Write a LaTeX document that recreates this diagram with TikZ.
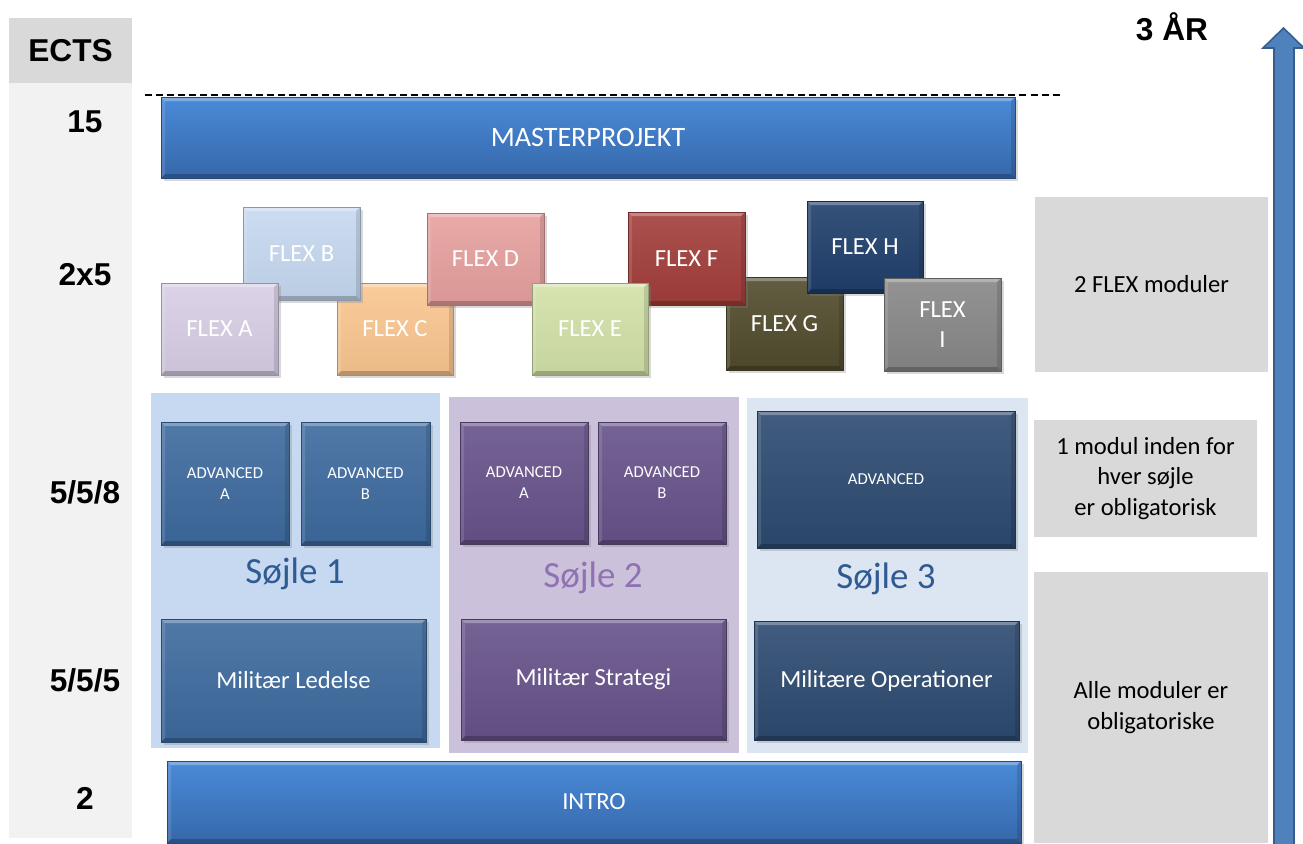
\documentclass[tikz,border=0pt]{standalone}
\usepackage{fontspec}
\setmainfont{Carlito}
\newfontfamily\ectsfont{Liberation Sans}
\usetikzlibrary{shadows}
\definecolor{ectsbg}{HTML}{F2F2F2}
\definecolor{ectshd}{HTML}{D9D9D9}
\definecolor{notebg}{HTML}{D9D9D9}
\definecolor{mastop}{HTML}{4A8AD8}
\definecolor{masbot}{HTML}{3668AA}
\definecolor{flexa}{HTML}{D8CEE6}
\definecolor{flexb}{HTML}{C6D9F1}
\definecolor{flexc}{HTML}{FAC690}
\definecolor{flexd}{HTML}{E6A09E}
\definecolor{flexe}{HTML}{D2E1A8}
\definecolor{flexf}{HTML}{A23E3B}
\definecolor{flexg}{HTML}{514B2D}
\definecolor{flexh}{HTML}{1F3F6B}
\definecolor{flexi}{HTML}{878787}
\definecolor{pana}{HTML}{C6D9F1}
\definecolor{panb}{HTML}{CCC1DA}
\definecolor{panc}{HTML}{DCE6F2}
\definecolor{cola}{HTML}{3D6A9E}
\definecolor{colb}{HTML}{67528A}
\definecolor{colc}{HTML}{2C4A70}
\definecolor{sja}{HTML}{2F5A92}
\definecolor{sjb}{HTML}{8F72B3}
\definecolor{arrowbl}{HTML}{4F81BD}
\definecolor{arrowdk}{HTML}{385D8A}

\begin{document}
\begin{tikzpicture}[
    x=0.02cm, y=-0.02cm,
    font=\fontsize{14}{17.3}\selectfont,
    sz/.style 2 args={minimum width=#1*0.02cm, minimum height=#2*0.02cm},
    bevel/.style={path picture={
      \fill[white, opacity=0.3] (path picture bounding box.north west) -- (path picture bounding box.north east)
        -- ([xshift=-0.8mm, yshift=-0.8mm]path picture bounding box.north east) -- ([xshift=0.8mm, yshift=-0.8mm]path picture bounding box.north west) -- cycle;
      \fill[black, opacity=0.22] (path picture bounding box.south west) -- (path picture bounding box.south east)
        -- ([xshift=-0.8mm, yshift=0.8mm]path picture bounding box.south east) -- ([xshift=0.8mm, yshift=0.8mm]path picture bounding box.south west) -- cycle;
      \fill[white, opacity=0.12] (path picture bounding box.north west) -- ([xshift=0.8mm, yshift=-0.8mm]path picture bounding box.north west)
        -- ([xshift=0.8mm, yshift=0.8mm]path picture bounding box.south west) -- (path picture bounding box.south west) -- cycle;
      \fill[black, opacity=0.12] (path picture bounding box.north east) -- ([xshift=-0.8mm, yshift=-0.8mm]path picture bounding box.north east)
        -- ([xshift=-0.8mm, yshift=0.8mm]path picture bounding box.south east) -- (path picture bounding box.south east) -- cycle;
    }},
    mod/.style={inner sep=0pt, text=white, align=center, top color=#1!90!white, bottom color=#1!94!black,
      draw=#1!70!black, line width=0.3pt, bevel, drop shadow={shadow xshift=0.5mm, shadow yshift=-0.6mm, opacity=0.3}},
    wide/.style={mod=masbot, top color=mastop, bottom color=masbot, font=\fontsize{16}{19}\selectfont},
    adv/.style={mod=#1, font=\fontsize{9.5}{11.9}\selectfont},
    panel/.style={fill=#1, inner sep=0pt},
    note/.style={fill=notebg, inner sep=0pt, align=center, text=black},
    ects/.style={font=\ectsfont\bfseries\fontsize{18}{21}\selectfont},
    sjl/.style={anchor=base, font=\fontsize{21}{25}\selectfont},
  ]
  \useasboundingbox (0,0) rectangle (1303,843);
  \clip (0,0) rectangle (1303,843);
  % ---- ECTS column
  \node[panel=ectsbg, sz={123}{820}] (col) at (70.5,428) {};
  \node[panel=ectshd, sz={123}{65}, ects] (ehd) at (70.5,50.5) {ECTS};
  \node[ects] (e15) at (85,122) {15};
  \node[ects] (eflex) at (85,275) {2x5};
  \node[ects] (eadv) at (85,492) {5/5/8};
  \node[ects] (ebase) at (85,680) {5/5/5};
  \node[ects] (eintro) at (85,798) {2};
  % ---- masterprojekt
  \coordinate (dla) at (145,95);
  \coordinate (dlb) at (1062,95);
  \draw[dash pattern=on 4pt off 2.3pt, line width=0.6pt] (dla) -- (dlb);
  \node[wide, sz={854}{81}] (mp) at (588,137.5) {MASTERPROJEKT};
  % ---- flex modules
  \node[mod=flexc, sz={116}{92}] (fc) at (395,329) {FLEX C};
  \node[mod=flexb, sz={117}{93}] (fb) at (301.5,253.5) {FLEX B};
  \node[mod=flexa, sz={117}{92}] (fa) at (219.5,329) {FLEX A};
  \node[mod=flexd, sz={117}{92}] (fd) at (485.5,259) {FLEX D};
  \node[mod=flexg, sz={117}{93}] (fg) at (784.5,323.5) {FLEX G};
  \node[mod=flexf, sz={117}{93}] (ff) at (686.5,258.5) {FLEX F};
  \node[mod=flexe, sz={116}{92}] (fe) at (590,329) {FLEX E};
  \node[mod=flexh, sz={116}{92}] (fh) at (865,247) {FLEX H};
  \node[mod=flexi, sz={117}{93}] (fi) at (942.5,324.5) {FLEX\\ I};
  % ---- pillars
  \node[panel=pana, sz={289}{355}] (pa) at (295.5,570.5) {};
  \node[panel=panb, sz={290}{356}] (pb) at (594,575) {};
  \node[panel=panc, sz={281}{355}] (pc) at (887.5,575.5) {};
  \node[adv=cola, sz={128}{123}] (aaa) at (225,483.5) {ADVANCED\\ A};
  \node[adv=cola, sz={129}{123}] (aab) at (365.5,483.5) {ADVANCED\\ B};
  \node[mod=cola, sz={265}{123}] (ba) at (293.5,680.5) {Militær Ledelse};
  \node[adv=colb, sz={128}{122}] (aba) at (524,483) {ADVANCED\\ A};
  \node[adv=colb, sz={128}{122}] (abb) at (662,483) {ADVANCED\\ B};
  \node[mod=colb, sz={265}{121}] (bb) at (593.5,679.5) {Militær Strategi};
  \node[adv=colc, sz={258}{137}] (ac) at (886,479.5) {ADVANCED};
  \node[mod=colc, sz={265}{119}] (bc) at (886.5,680.5) {Militære Operationer};
  \node[sjl, text=sja] (sa) at (295,583) {Søjle 1};
  \node[sjl, text=sjb] (sb) at (593,587) {Søjle 2};
  \node[sjl, text=sja] (sc) at (886,588) {Søjle 3};
  % ---- intro
  \node[wide, font=\fontsize{14}{17}\selectfont, sz={854}{82}] (intro) at (594,802) {INTRO};
  % ---- notes
  \node[note, sz={233}{175}] (na) at (1151.5,284.5) {2 FLEX moduler};
  \node[note, sz={223}{117}] (nb) at (1145.5,478.5) {1 modul inden for\\ hver søjle\\ er obligatorisk};
  \node[note, sz={234}{271}] (nc) at (1151,707.5) {Alle moduler er\\ obligatoriske};
  % ---- years arrow
  \fill[arrowbl, draw=arrowdk, line width=0.9pt] (1274,850) -- (1274,48) -- (1263,48) -- (1283.5,28) -- (1304,48) -- (1294,48) -- (1294,850) -- cycle;
  \node[ects] (yrs) at (1172,27) {3 ÅR};
\end{tikzpicture}
\end{document}
